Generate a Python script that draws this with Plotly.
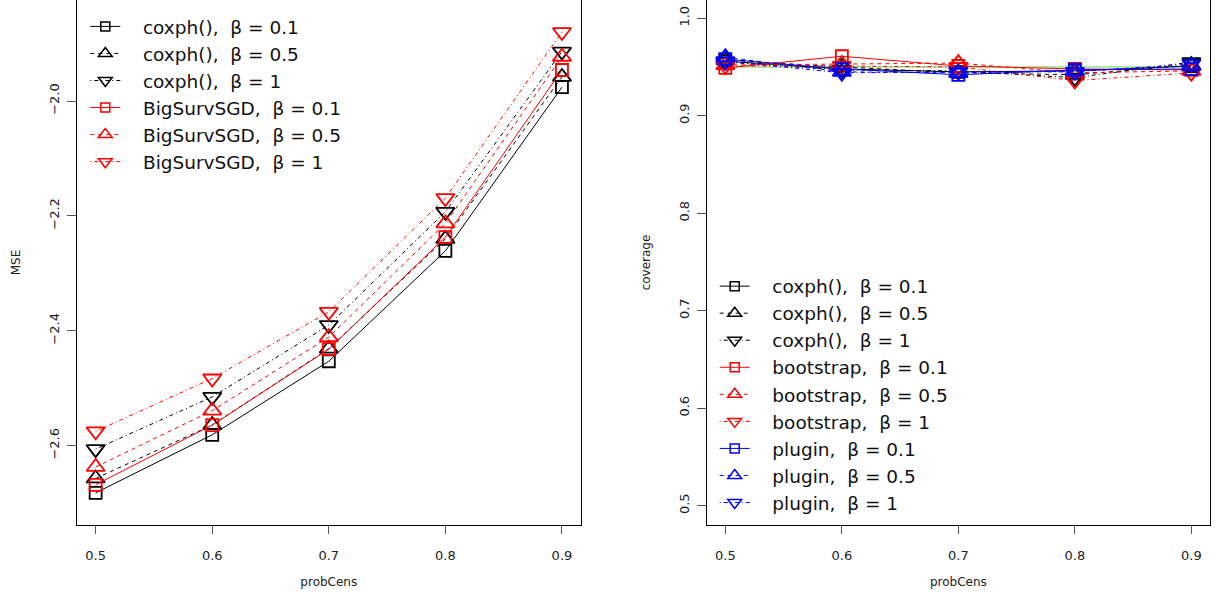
import plotly.graph_objects as go

probCens = [0.5, 0.6, 0.7, 0.8, 0.9]

# Left panel: MSE (log scale values)
mse_coxph_b01 = [-2.682, -2.581, -2.453, -2.261, -1.976]
mse_coxph_b05 = [-2.657, -2.564, -2.431, -2.240, -1.958]
mse_coxph_b1 = [-2.606, -2.515, -2.390, -2.193, -1.914]
mse_sgd_b01 = [-2.668, -2.564, -2.432, -2.237, -1.946]
mse_sgd_b05 = [-2.637, -2.539, -2.411, -2.213, -1.923]
mse_sgd_b1 = [-2.575, -2.483, -2.367, -2.169, -1.880]

# Right panel: coverage
cov_coxph_b01 = [0.956, 0.948, 0.945, 0.946, 0.951]
cov_coxph_b05 = [0.957, 0.950, 0.944, 0.942, 0.952]
cov_coxph_b1 = [0.955, 0.947, 0.946, 0.939, 0.955]
cov_boot_b01 = [0.949, 0.961, 0.951, 0.948, 0.947]
cov_boot_b05 = [0.952, 0.953, 0.954, 0.944, 0.946]
cov_boot_b1 = [0.951, 0.951, 0.950, 0.936, 0.944]
cov_plug_b01 = [0.958, 0.948, 0.942, 0.947, 0.948]
cov_plug_b05 = [0.960, 0.945, 0.944, 0.946, 0.951]
cov_plug_b1 = [0.956, 0.944, 0.945, 0.945, 0.953]
nominal = [0.95, 0.95, 0.95, 0.95, 0.95]

left_ticks = [-2.6, -2.4, -2.2, -2.0]
right_ticks = [0.5, 0.6, 0.7, 0.8, 0.9, 1.0]

NB = "\u00a0"
def lab(method, beta):
    return f"{NB*3}{method},{NB*2}\u03b2 = {beta}"

DASH = {"solid": "solid", "dashed": "4px,4px", "dotdash": "1px,3px,4px,3px"}
SYM = {"solid": "square-open", "dashed": "triangle-up-open", "dotdash": "triangle-down-open"}
SIZE = {"solid": 12, "dashed": 16, "dotdash": 16}
LSIZE = {"solid": 9, "dashed": 12, "dotdash": 12}

left_series = [
    (lab("coxph()", "0.1"), mse_coxph_b01, "black", "solid"),
    (lab("coxph()", "0.5"), mse_coxph_b05, "black", "dashed"),
    (lab("coxph()", "1"), mse_coxph_b1, "black", "dotdash"),
    (lab("BigSurvSGD", "0.1"), mse_sgd_b01, "red", "solid"),
    (lab("BigSurvSGD", "0.5"), mse_sgd_b05, "red", "dashed"),
    (lab("BigSurvSGD", "1"), mse_sgd_b1, "red", "dotdash"),
]
right_series = [
    (lab("coxph()", "0.1"), cov_coxph_b01, "black", "solid"),
    (lab("coxph()", "0.5"), cov_coxph_b05, "black", "dashed"),
    (lab("coxph()", "1"), cov_coxph_b1, "black", "dotdash"),
    (lab("bootstrap", "0.1"), cov_boot_b01, "red", "solid"),
    (lab("bootstrap", "0.5"), cov_boot_b05, "red", "dashed"),
    (lab("bootstrap", "1"), cov_boot_b1, "red", "dotdash"),
    (lab("plugin", "0.1"), cov_plug_b01, "blue", "solid"),
    (lab("plugin", "0.5"), cov_plug_b05, "blue", "dashed"),
    (lab("plugin", "1"), cov_plug_b1, "blue", "dotdash"),
]

fig = go.Figure()

def add_panel(series, xa, ya, legend):
    for name, ys, col, sty in series:
        fig.add_trace(go.Scatter(
            x=probCens, y=ys, name=name, mode="lines+markers", showlegend=False,
            line=dict(color=col, width=1, dash=DASH[sty]),
            marker=dict(symbol=SYM[sty], size=SIZE[sty], color=col, line=dict(color=col, width=1.8)),
            xaxis=xa, yaxis=ya,
        ))
    # legend entries (smaller symbols, as in the legend of the original)
    for name, ys, col, sty in series:
        fig.add_trace(go.Scatter(
            x=[None], y=[None], name=name, mode="lines+markers", showlegend=True,
            line=dict(color=col, width=1, dash=DASH[sty]),
            marker=dict(symbol=SYM[sty], size=LSIZE[sty], color=col, line=dict(color=col, width=1.5)),
            xaxis=xa, yaxis=ya, legend=legend,
        ))

add_panel(left_series, "x", "y", "legend")
fig.add_trace(go.Scatter(
    x=probCens, y=nominal, mode="lines", showlegend=False,
    line=dict(color="#61D04F", width=1), xaxis="x2", yaxis="y2",
))
add_panel(right_series, "x2", "y2", "legend2")

FONT = "DejaVu Sans, Liberation Sans, Arial, sans-serif"
W, H = 1216, 603
ml, mr, mt, mb = 77, 6, 0, 78
pw = W - ml - mr

def xaxis_common(domain, anchor):
    return dict(
        domain=domain, anchor=anchor, range=[0.484, 0.916],
        tickvals=probCens, tickformat=".1f",
        ticks="outside", ticklen=8, tickcolor="#555", tickwidth=1,
        showline=True, linecolor="black", linewidth=1, mirror=False,
        showgrid=False, zeroline=False,
        tickfont=dict(size=13, color="#222", family=FONT),
        ticklabelstandoff=10,
        title=dict(text="probCens", font=dict(size=12, color="#222", family=FONT), standoff=16),
    )

def yaxis_common(anchor, rng, tickvals, title):
    return dict(
        anchor=anchor, range=rng, tickvals=tickvals, tickformat=".1f",
        ticks="outside", ticklen=9, tickcolor="#555", tickwidth=1, tickangle=-90,
        showline=True, linecolor="black", linewidth=1, mirror=True,
        showgrid=False, zeroline=False,
        tickfont=dict(size=13, color="#222", family=FONT),
        ticklabelstandoff=3,
        title=dict(text=title, font=dict(size=12, color="#222", family=FONT), standoff=23),
    )

d1 = [0, (580.6 - ml) / pw]
d2 = [(706.7 - ml) / pw, 1]

leg_common = dict(
    bgcolor="rgba(0,0,0,0)", borderwidth=0,
    font=dict(size=18.5, color="#111", family=FONT),
    xanchor="left", yanchor="top", tracegroupgap=0,
)

fig.update_layout(
    width=W, height=H, autosize=False,
    margin=dict(l=ml, r=mr, t=mt, b=mb, pad=0),
    paper_bgcolor="white", plot_bgcolor="white",
    font=dict(family=FONT, color="#222"),
    xaxis=xaxis_common(d1, "y"),
    xaxis2=xaxis_common(d2, "y2"),
    yaxis=yaxis_common("x", [-2.738, -1.8242], left_ticks, "MSE"),
    yaxis2=yaxis_common("x2", [0.4802, 1.0187], right_ticks, "coverage"),
    legend=dict(x=(85.3 - ml) / pw, y=0.985, **leg_common),
    legend2=dict(x=(714.7 - ml) / pw, y=1 - 267.6 / (H - mt - mb), **leg_common),
    showlegend=True,
)

fig.write_html("out.html")
